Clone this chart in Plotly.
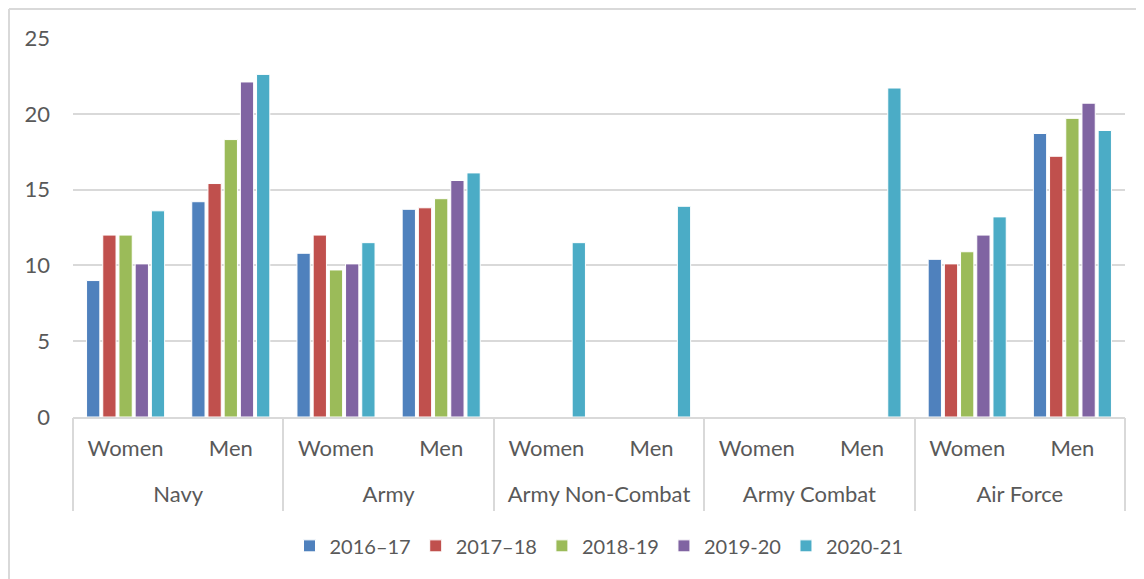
import plotly.graph_objs as go

services = ["Navy", "Navy", "Army", "Army", "Army Non-Combat", "Army Non-Combat",
            "Army Combat", "Army Combat", "Air Force", "Air Force"]
genders = ["Women", "Men"] * 5

years = ["2016\u201317", "2017\u201318", "2018-19", "2019-20", "2020-21"]
colors = ["#4f81bd", "#c0504d", "#9bbb59", "#8064a2", "#4bacc6"]

v_2016_17 = [9.0, 14.2, 10.8, 13.7, None, None, None, None, 10.4, 18.7]
v_2017_18 = [12.0, 15.4, 12.0, 13.8, None, None, None, None, 10.1, 17.2]
v_2018_19 = [12.0, 18.3, 9.7, 14.4, None, None, None, None, 10.9, 19.7]
v_2019_20 = [10.1, 22.1, 10.1, 15.6, None, None, None, None, 12.0, 20.7]
v_2020_21 = [13.6, 22.6, 11.5, 16.1, 11.5, 13.9, None, 21.7, 13.2, 18.9]

series = [v_2016_17, v_2017_18, v_2018_19, v_2019_20, v_2020_21]

font = "Lato, Carlito, Calibri, sans-serif"
grey = "#595959"
light = "#d9d9d9"

# unique category keys so every service/gender pair gets its own slot
cats = [s + " | " + g for s, g in zip(services, genders)]

# outer group labels and divider positions (category index space)
groups = list(dict.fromkeys(services))
group_centres = [(services.index(g) + len(services) - 1 - services[::-1].index(g)) / 2
                 for g in groups]
dividers = [services.index(g) - 0.5 for g in groups] + [len(services) - 0.5]
xr = [-0.5, len(services) - 0.5]

fig = go.Figure()
for name, vals, col in zip(years, series, colors):
    fig.add_trace(go.Bar(
        x=cats,
        y=vals,
        name=name,
        marker=dict(color=col, line=dict(color="white", width=1)),
    ))

# empty helper traces so the overlaid label/divider axes get drawn
for ax in ["x2", "x3"]:
    fig.add_trace(go.Scatter(x=[], y=[], xaxis=ax, yaxis="y",
                             showlegend=False, hoverinfo="skip"))

fig.update_layout(
    width=1136, height=571,
    margin=dict(l=65, r=19, t=30, b=162),
    paper_bgcolor="white", plot_bgcolor="white",
    barmode="group", bargap=0.23, bargroupgap=0.18,
    font=dict(family=font, size=22, color=grey),
    showlegend=True,
    legend=dict(orientation="h", x=0.5, xanchor="center", y=-0.34, yanchor="middle",
                font=dict(size=20, color=grey), itemwidth=30, traceorder="normal"),
    xaxis=dict(type="category", range=xr, tickmode="array", tickvals=cats, ticktext=genders,
               showline=True, linecolor=light, linewidth=2, ticks="",
               ticklabelstandoff=11, tickfont=dict(size=22, color=grey)),
    xaxis2=dict(overlaying="x", anchor="y", side="bottom", range=xr, type="linear",
                tickmode="array", tickvals=group_centres, ticktext=groups,
                showgrid=False, zeroline=False, showline=False, ticks="",
                ticklabelstandoff=62, tickfont=dict(size=22, color=grey)),
    xaxis3=dict(overlaying="x", anchor="y", side="bottom", range=xr, type="linear",
                tickmode="array", tickvals=dividers, showticklabels=False,
                showgrid=False, zeroline=False, showline=False,
                ticks="outside", ticklen=93, tickwidth=2, tickcolor=light),
    yaxis=dict(range=[0, 25], dtick=5, showgrid=True, gridcolor=light, gridwidth=2,
               zeroline=False, showline=False, ticks="", ticklabelstandoff=22,
               tickfont=dict(size=22, color=grey)),
    shapes=[
        dict(type="line", xref="paper", yref="paper",
             x0=-64 / 1052, x1=1.2, y0=1 + 29 / 379, y1=1 + 29 / 379,
             line=dict(color=light, width=2)),
        dict(type="line", xref="paper", yref="paper",
             x0=-64 / 1052, x1=-64 / 1052, y0=1 + 29 / 379, y1=-0.5,
             line=dict(color=light, width=2)),
    ],
)

fig.write_html("out.html")
